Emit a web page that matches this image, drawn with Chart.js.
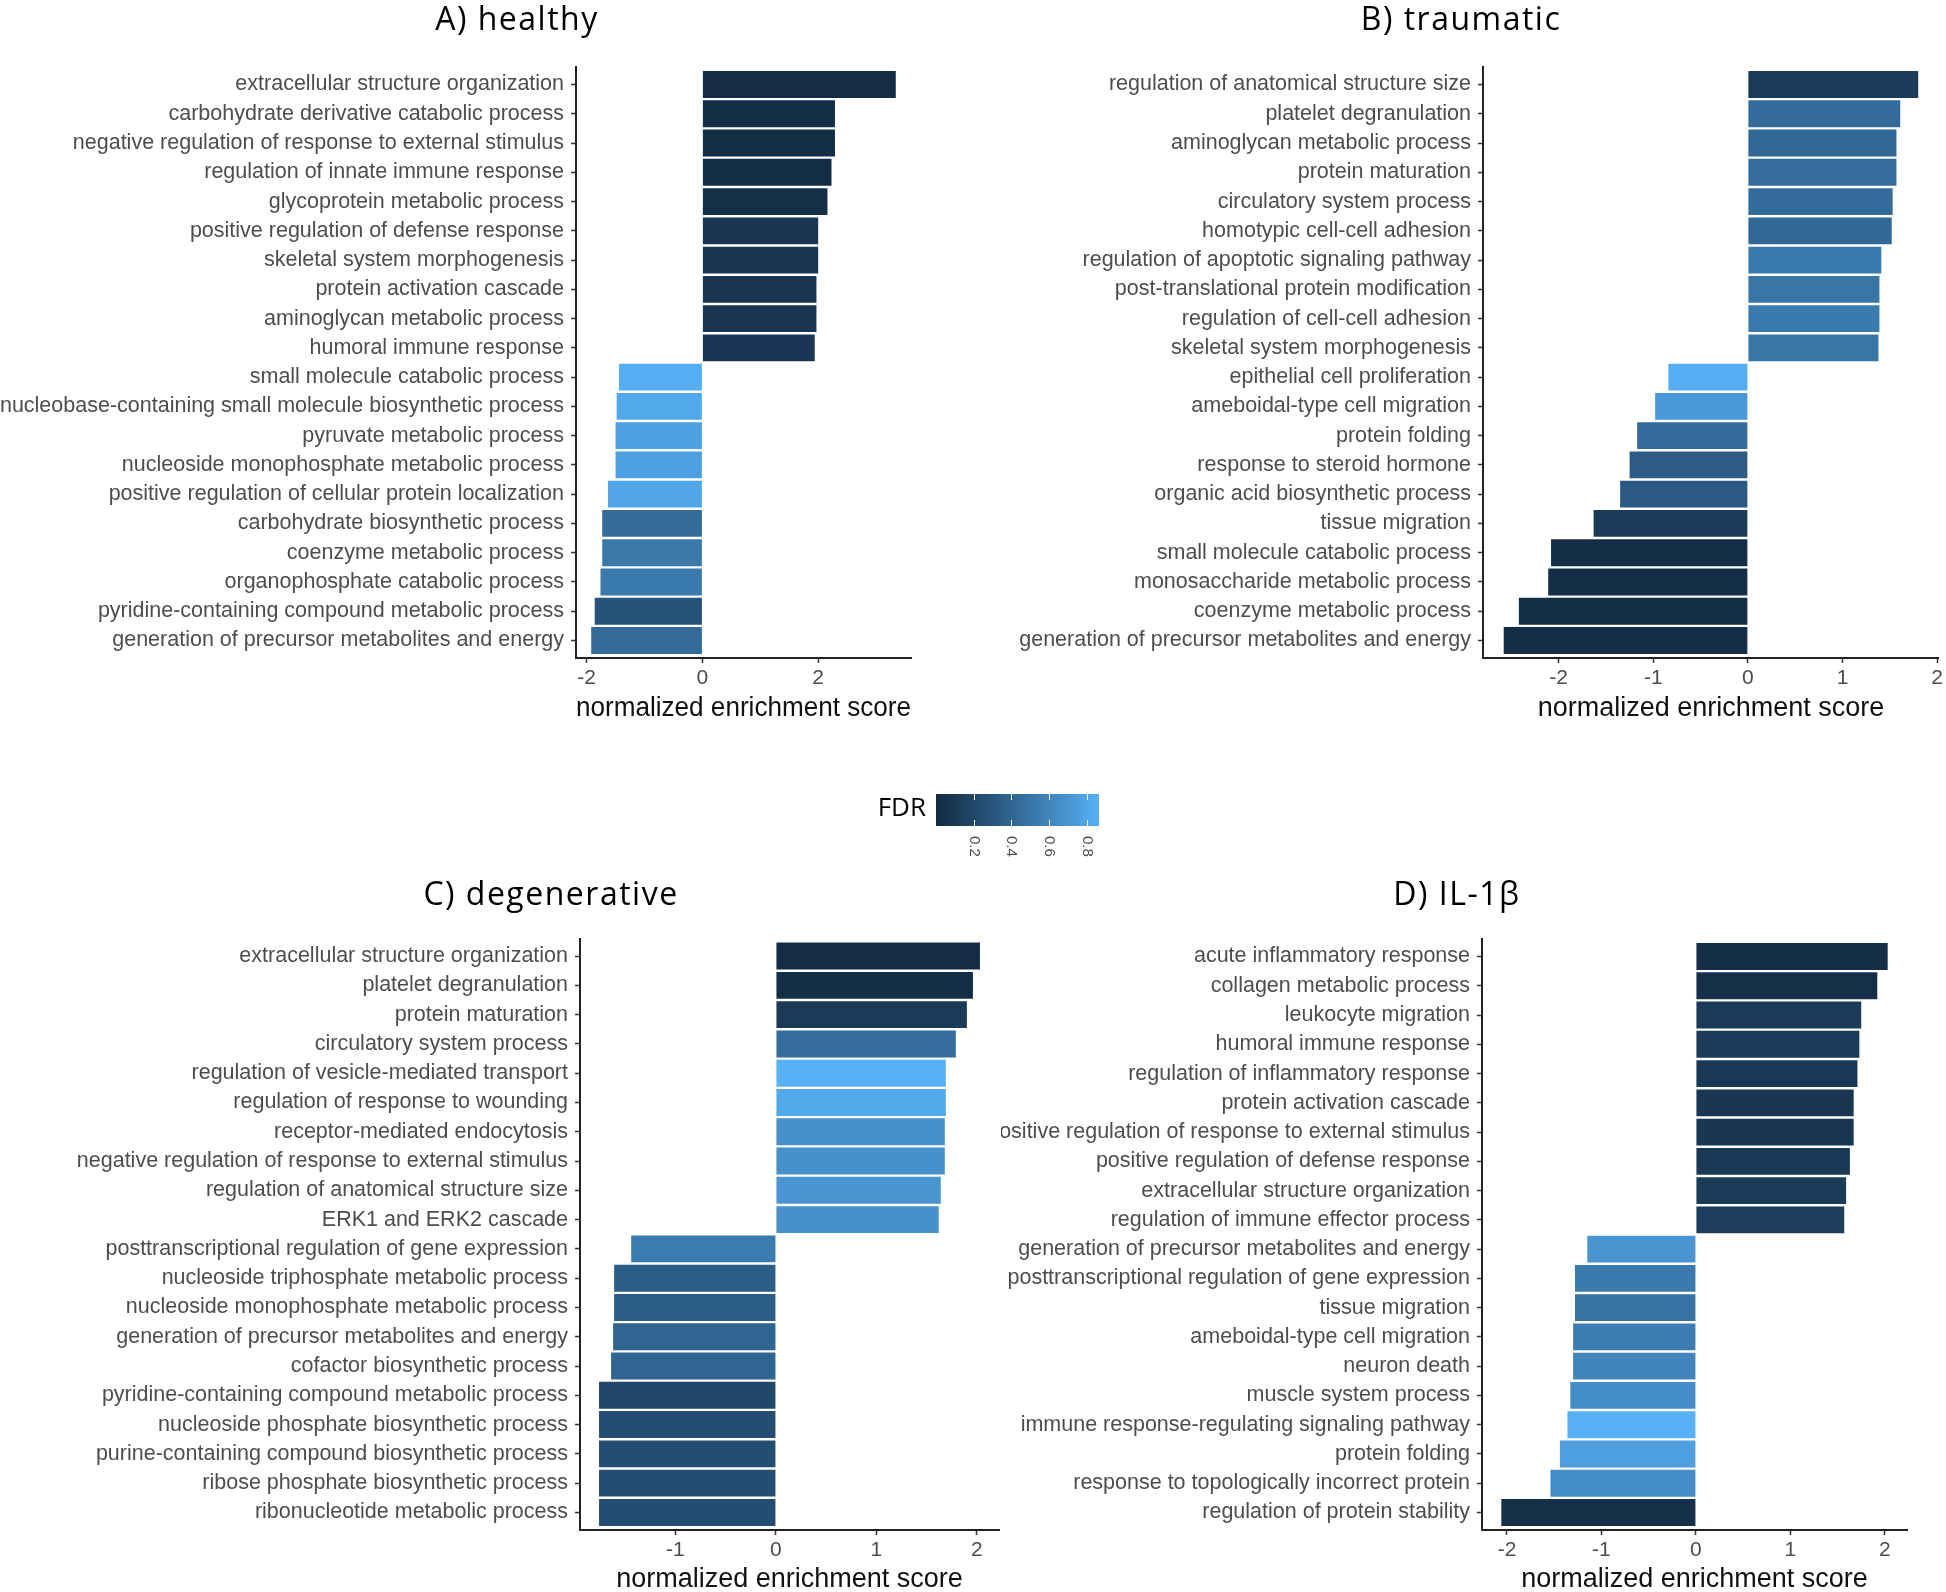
<!DOCTYPE html>
<html>
<head>
<meta charset="utf-8">
<title>Enriched GO terms by condition</title>
<script src="https://cdn.jsdelivr.net/npm/chart.js@4.4.1/dist/chart.umd.min.js"></script>
<style>
  html, body { margin: 0; padding: 0; background: #fff; overflow: hidden; }
  #page { position: relative; width: 1946px; height: 1592px; }
  canvas { position: absolute; }
</style>
</head>
<body>
<div id="page">
  <canvas id="healthy" width="1034" height="730" style="left:0;top:0"></canvas>
  <canvas id="traumatic" width="970" height="730" style="left:976px;top:0"></canvas>
  <canvas id="degenerative" width="1102" height="740" style="left:0;top:860px"></canvas>
  <canvas id="il1b" width="912" height="740" style="left:1001px;top:860px"></canvas>
  <canvas id="fdrLegend" width="260" height="90" style="left:860px;top:780px"></canvas>
</div>
<script>
// --- data -------------------------------------------------------------
const healthyTerms = [
  'extracellular structure organization', 'carbohydrate derivative catabolic process',
  'negative regulation of response to external stimulus', 'regulation of innate immune response',
  'glycoprotein metabolic process', 'positive regulation of defense response',
  'skeletal system morphogenesis', 'protein activation cascade',
  'aminoglycan metabolic process', 'humoral immune response',
  'small molecule catabolic process', 'nucleobase-containing small molecule biosynthetic process',
  'pyruvate metabolic process', 'nucleoside monophosphate metabolic process',
  'positive regulation of cellular protein localization', 'carbohydrate biosynthetic process',
  'coenzyme metabolic process', 'organophosphate catabolic process',
  'pyridine-containing compound metabolic process', 'generation of precursor metabolites and energy'
];
const healthyNES = [3.34, 2.29, 2.29, 2.23, 2.16, 2.00, 2.00, 1.97, 1.97, 1.94,
  -1.44, -1.48, -1.50, -1.50, -1.63, -1.73, -1.73, -1.76, -1.86, -1.92];
const healthyFDR = [0.01, 0.02, 0.02, 0.02, 0.03, 0.08, 0.08, 0.08, 0.08, 0.09,
  0.85, 0.81, 0.76, 0.76, 0.80, 0.43, 0.52, 0.53, 0.28, 0.43];

const traumaticTerms = [
  'regulation of anatomical structure size', 'platelet degranulation',
  'aminoglycan metabolic process', 'protein maturation',
  'circulatory system process', 'homotypic cell-cell adhesion',
  'regulation of apoptotic signaling pathway', 'post-translational protein modification',
  'regulation of cell-cell adhesion', 'skeletal system morphogenesis',
  'epithelial cell proliferation', 'ameboidal-type cell migration',
  'protein folding', 'response to steroid hormone',
  'organic acid biosynthetic process', 'tissue migration',
  'small molecule catabolic process', 'monosaccharide metabolic process',
  'coenzyme metabolic process', 'generation of precursor metabolites and energy'
];
const traumaticNES = [1.80, 1.61, 1.57, 1.57, 1.53, 1.52, 1.41, 1.39, 1.39, 1.38,
  -0.84, -0.98, -1.17, -1.25, -1.35, -1.63, -2.08, -2.11, -2.42, -2.58];
const traumaticFDR = [0.12, 0.44, 0.42, 0.45, 0.44, 0.42, 0.53, 0.51, 0.53, 0.51,
  0.85, 0.72, 0.44, 0.34, 0.32, 0.12, 0.02, 0.02, 0.02, 0.02];

const degenerativeTerms = [
  'extracellular structure organization', 'platelet degranulation',
  'protein maturation', 'circulatory system process',
  'regulation of vesicle-mediated transport', 'regulation of response to wounding',
  'receptor-mediated endocytosis', 'negative regulation of response to external stimulus',
  'regulation of anatomical structure size', 'ERK1 and ERK2 cascade',
  'posttranscriptional regulation of gene expression', 'nucleoside triphosphate metabolic process',
  'nucleoside monophosphate metabolic process', 'generation of precursor metabolites and energy',
  'cofactor biosynthetic process', 'pyridine-containing compound metabolic process',
  'nucleoside phosphate biosynthetic process', 'purine-containing compound biosynthetic process',
  'ribose phosphate biosynthetic process', 'ribonucleotide metabolic process'
];
const degenerativeNES = [2.03, 1.96, 1.90, 1.79, 1.69, 1.69, 1.68, 1.68, 1.64, 1.62,
  -1.44, -1.61, -1.61, -1.62, -1.64, -1.76, -1.76, -1.76, -1.76, -1.76];
const degenerativeFDR = [0.01, 0.02, 0.11, 0.45, 0.86, 0.81, 0.67, 0.67, 0.70, 0.67,
  0.54, 0.35, 0.35, 0.40, 0.40, 0.20, 0.24, 0.24, 0.24, 0.24];

const il1bTerms = [
  'acute inflammatory response', 'collagen metabolic process',
  'leukocyte migration', 'humoral immune response',
  'regulation of inflammatory response', 'protein activation cascade',
  'positive regulation of response to external stimulus', 'positive regulation of defense response',
  'extracellular structure organization', 'regulation of immune effector process',
  'generation of precursor metabolites and energy', 'posttranscriptional regulation of gene expression',
  'tissue migration', 'ameboidal-type cell migration',
  'neuron death', 'muscle system process',
  'immune response-regulating signaling pathway', 'protein folding',
  'response to topologically incorrect protein', 'regulation of protein stability'
];
const il1bNES = [2.03, 1.92, 1.75, 1.73, 1.71, 1.67, 1.67, 1.63, 1.59, 1.57,
  -1.15, -1.28, -1.28, -1.30, -1.30, -1.33, -1.36, -1.44, -1.54, -2.06];
const il1bFDR = [0.02, 0.03, 0.11, 0.11, 0.10, 0.08, 0.08, 0.10, 0.12, 0.13,
  0.70, 0.53, 0.48, 0.55, 0.60, 0.65, 0.865, 0.76, 0.65, 0.03];

const fdrMin = 0;
const fdrMax = 0.865;
const fdrTicks = [0.2, 0.4, 0.6, 0.8];
const lowColor = '#132B43';
const highColor = '#56B1F7';

// --- colour scale (Lab interpolation like ggplot's default gradient) ----
function hexToLab(hex) {
  const n = parseInt(hex.slice(1), 16);
  const [r, g, b] = [n >> 16, (n >> 8) & 255, n & 255].map(c => {
    c /= 255;
    return c <= 0.04045 ? c / 12.92 : Math.pow((c + 0.055) / 1.055, 2.4);
  });
  const X = (0.4124 * r + 0.3576 * g + 0.1805 * b) / 0.95047;
  const Y = 0.2126 * r + 0.7152 * g + 0.0722 * b;
  const Z = (0.0193 * r + 0.1192 * g + 0.9505 * b) / 1.08883;
  const f = t => t > 0.008856 ? Math.cbrt(t) : 7.787 * t + 16 / 116;
  return [116 * f(Y) - 16, 500 * (f(X) - f(Y)), 200 * (f(Y) - f(Z))];
}

function labToRgb([L, A, B]) {
  const fy = (L + 16) / 116, fx = fy + A / 500, fz = fy - B / 200;
  const inv = t => t ** 3 > 0.008856 ? t ** 3 : (t - 16 / 116) / 7.787;
  const X = inv(fx) * 0.95047, Y = inv(fy), Z = inv(fz) * 1.08883;
  const lin = [
    3.2406 * X - 1.5372 * Y - 0.4986 * Z,
    -0.9689 * X + 1.8758 * Y + 0.0415 * Z,
    0.0557 * X - 0.2040 * Y + 1.0570 * Z
  ];
  const c = lin.map(v => {
    v = v <= 0.0031308 ? 12.92 * v : 1.055 * Math.pow(v, 1 / 2.4) - 0.055;
    return Math.round(Math.min(1, Math.max(0, v)) * 255);
  });
  return `rgb(${c[0]}, ${c[1]}, ${c[2]})`;
}

const lowLab = hexToLab(lowColor);
const highLab = hexToLab(highColor);

function fdrColor(v) {
  const t = Math.min(1, Math.max(0, (v - fdrMin) / (fdrMax - fdrMin)));
  return labToRgb(lowLab.map((l, i) => l + (highLab[i] - l) * t));
}

// --- shared styling -----------------------------------------------------
Chart.defaults.font.family = '"Liberation Sans", Arial, sans-serif';
Chart.defaults.color = '#4d4d4d';

const tickFont = { size: 21.5 };
const axisLine = { display: true, color: '#222', width: 2 };

// panel title, centred on the canvas (the chart area is off-centre)
const panelTitle = {
  id: 'panelTitle',
  afterDraw(chart, args, opts) {
    const { ctx } = chart;
    ctx.save();
    ctx.font = '32px "Open Sans", sans-serif';
    ctx.letterSpacing = '1.5px';
    ctx.fillStyle = '#000';
    ctx.textAlign = 'center';
    ctx.textBaseline = 'alphabetic';
    ctx.fillText(opts.text, chart.width / 2, opts.baseline);
    ctx.restore();
  }
};

function panelChart(id, title, terms, nes, fdr, opts) {
  // axis limits: data range widened by 5% on each side (ggplot style)
  const lo = Math.min(0, ...nes);
  const hi = Math.max(0, ...nes);
  const pad = (hi - lo) * 0.05;

  return new Chart(document.getElementById(id), {
    type: 'bar',
    data: {
      datasets: [{
        data: nes.map((v, i) => ({ x: v, y: i })),
        backgroundColor: fdr.map(fdrColor),
        barPercentage: 0.92,
        categoryPercentage: 1.0
      }]
    },
    options: {
      indexAxis: 'y',
      responsive: false,
      animation: false,
      layout: { padding: { left: 0, right: opts.padRight, top: opts.top, bottom: 0 } },
      plugins: {
        legend: { display: false },
        tooltip: { enabled: false },
        panelTitle: { text: title, baseline: opts.titleBaseline }
      },
      scales: {
        x: {
          type: 'linear',
          min: lo - pad,
          max: hi + pad,
          border: axisLine,
          grid: { drawOnChartArea: false, tickLength: 5, tickColor: '#333', tickWidth: 1.5 },
          ticks: { stepSize: opts.step, includeBounds: false, padding: 3, font: { size: 21 }, color: '#4d4d4d' },
          title: {
            display: true,
            text: 'normalized enrichment score',
            color: '#111',
            font: { size: 27 },
            padding: { top: 0, bottom: opts.xTitlePad }
          },
          afterFit: s => { s.height = opts.xHeight; }
        },
        y: {
          // discrete axis with ggplot's 0.6 expansion on both ends
          type: 'linear',
          reverse: true,
          offset: false,
          min: -0.6,
          max: terms.length - 0.4,
          border: axisLine,
          grid: { drawOnChartArea: false, offset: false, tickLength: 5, tickColor: '#333', tickWidth: 1.5 },
          ticks: {
            stepSize: 1,
            includeBounds: false,
            autoSkip: false,
            padding: 7,
            font: tickFont,
            color: '#4d4d4d',
            callback: v => Number.isInteger(v) ? terms[v] : ''
          },
          afterFit: s => { s.width = opts.yWidth; }
        }
      }
    },
    plugins: [panelTitle]
  });
}

panelChart('healthy', 'A) healthy', healthyTerms, healthyNES, healthyFDR,
  { step: 2, yWidth: 576, padRight: 123, top: 67, xHeight: 72, xTitlePad: 5, titleBaseline: 30 });

panelChart('traumatic', 'B) traumatic', traumaticTerms, traumaticNES, traumaticFDR,
  { step: 1, yWidth: 507, padRight: 5, top: 67, xHeight: 72, xTitlePad: 5, titleBaseline: 30 });

panelChart('degenerative', 'C) degenerative', degenerativeTerms, degenerativeNES, degenerativeFDR,
  { step: 1, yWidth: 580, padRight: 103, top: 78.5, xHeight: 70, xTitlePad: 4, titleBaseline: 45 });

panelChart('il1b', 'D) IL-1\u03B2', il1bTerms, il1bNES, il1bFDR,
  { step: 1, yWidth: 481, padRight: 6, top: 79, xHeight: 70, xTitlePad: 4, titleBaseline: 45 });

// --- FDR colour bar ---------------------------------------------------
const colorbarPlugin = {
  id: 'colorbar',
  afterDraw(chart) {
    const { ctx, chartArea: a, scales: { x } } = chart;
    const x0 = x.getPixelForValue(fdrMin);
    const x1 = x.getPixelForValue(fdrMax);

    const grad = ctx.createLinearGradient(x0, 0, x1, 0);
    for (let i = 0; i <= 30; i++) {
      grad.addColorStop(i / 30, fdrColor(fdrMin + (fdrMax - fdrMin) * i / 30));
    }
    ctx.save();
    ctx.fillStyle = grad;
    ctx.fillRect(x0, a.top, x1 - x0, a.bottom - a.top);

    // white tick marks and rotated labels
    ctx.strokeStyle = '#fff';
    ctx.lineWidth = 1;
    ctx.fillStyle = '#4d4d4d';
    ctx.font = '15px "Liberation Sans", Arial, sans-serif';
    ctx.textAlign = 'left';
    ctx.textBaseline = 'middle';
    fdrTicks.forEach(v => {
      const px = Math.round(x.getPixelForValue(v)) + 0.5;
      ctx.beginPath();
      ctx.moveTo(px, a.top); ctx.lineTo(px, a.top + 6);
      ctx.moveTo(px, a.bottom - 6); ctx.lineTo(px, a.bottom);
      ctx.stroke();
      ctx.save();
      ctx.translate(px, a.bottom + 10);
      ctx.rotate(Math.PI / 2);
      ctx.fillText(String(v), 0, 0);
      ctx.restore();
    });

    ctx.fillStyle = '#000';
    ctx.font = '26px "Open Sans", sans-serif';
    ctx.textAlign = 'right';
    ctx.fillText('FDR', x0 - 10, (a.top + a.bottom) / 2 - 1);
    ctx.restore();
  }
};

new Chart(document.getElementById('fdrLegend'), {
  type: 'scatter',
  data: { datasets: [] },
  options: {
    responsive: false,
    animation: false,
    layout: { padding: { left: 76, right: 21, top: 14, bottom: 44 } },
    plugins: { legend: { display: false }, tooltip: { enabled: false } },
    scales: {
      x: { type: 'linear', min: fdrMin, max: fdrMax, display: false },
      y: { display: false }
    }
  },
  plugins: [colorbarPlugin]
});
</script>
</body>
</html>
